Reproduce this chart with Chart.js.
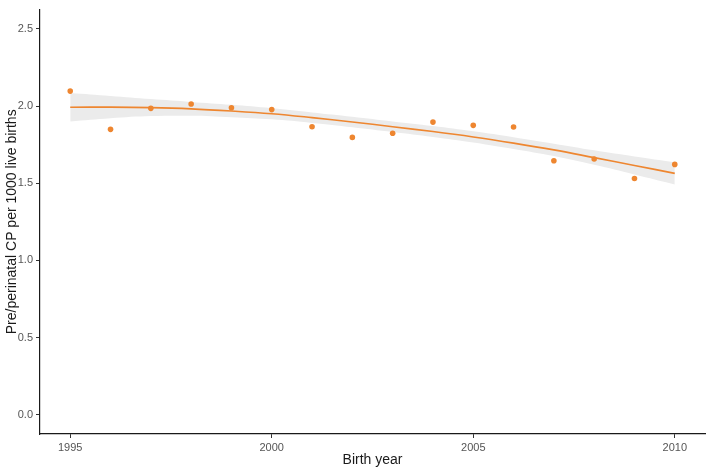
<!DOCTYPE html>
<html>
<head>
<meta charset="utf-8">
<script src="https://cdn.jsdelivr.net/npm/chart.js@4.4.1/dist/chart.umd.min.js"></script>
<style>
html,body{margin:0;padding:0;background:#fff;}
#wrap{width:709px;height:469px;position:relative;}
</style>
</head>
<body>
<div id="wrap"><canvas id="c" width="709" height="469"></canvas></div>
<script>
const years = [1995,1996,1997,1998,1999,2000,2001,2002,2003,2004,2005,2006,2007,2008,2009,2010];
const observed = [2.097,1.849,1.985,2.013,1.989,1.977,1.866,1.797,1.824,1.896,1.875,1.864,1.646,1.657,1.531,1.622];
const fitted = [1.992,1.993,1.990,1.982,1.968,1.950,1.925,1.897,1.866,1.835,1.800,1.760,1.716,1.666,1.615,1.564];
const upperCI = [2.084,2.065,2.045,2.027,2.008,1.986,1.959,1.931,1.900,1.870,1.836,1.798,1.756,1.713,1.673,1.636];
const lowerCI = [1.900,1.921,1.935,1.937,1.928,1.914,1.891,1.863,1.832,1.800,1.764,1.722,1.676,1.619,1.557,1.492];
const xTicks = [1995,2000,2005,2010];
const yTicks = [0,0.5,1.0,1.5,2.0,2.5];

const ORANGE = '#EE8630';
const toXY = (arr) => years.map((y,i)=>({x:y,y:arr[i]}));

new Chart(document.getElementById('c'), {
  type: 'scatter',
  data: {
    datasets: [
      {label:'observed', data: toXY(observed), backgroundColor: ORANGE, borderColor: ORANGE, pointRadius: 2.8, pointBorderWidth: 0, showLine:false},
      {label:'fit', data: toXY(fitted), showLine:true, borderColor: ORANGE, borderWidth: 1.6, pointRadius:0, tension:0.4, fill:false},
      {label:'upper', data: toXY(upperCI), showLine:true, borderWidth:0, borderColor:'rgba(0,0,0,0)', pointRadius:0, tension:0.4, fill:'+1', backgroundColor:'#EBEBEB'},
      {label:'lower', data: toXY(lowerCI), showLine:true, borderWidth:0, borderColor:'rgba(0,0,0,0)', pointRadius:0, tension:0.4, fill:false}
    ]
  },
  options: {
    responsive:false,
    animation:false,
    devicePixelRatio:1,
    layout:{padding:{top:2,right:1,left:0,bottom:0}},
    plugins:{legend:{display:false},tooltip:{enabled:false}},
    scales:{
      x:{
        type:'linear', min:1994.25, max:2010.75,
        afterBuildTicks:(s)=>{s.ticks = xTicks.map(v=>({value:v}));},
        afterFit:(s)=>{s.height = 35;},
        grid:{drawOnChartArea:false, drawTicks:true, tickLength:4, color:'#333333', tickWidth:1},
        border:{display:true, color:'#1a1a1a', width:1.2},
        ticks:{color:'#555555', font:{family:'Liberation Sans', size:11}, padding:3, maxRotation:0, autoSkip:false, callback:(v)=>String(v)},
        title:{display:true, text:'Birth year', color:'#1a1a1a', font:{family:'Liberation Sans', size:14}, padding:{top:0,bottom:0}}
      },
      y:{
        type:'linear', min:-0.125, max:2.625,
        afterBuildTicks:(s)=>{s.ticks = yTicks.map(v=>({value:v}));},
        afterFit:(s)=>{s.width = 40;},
        grid:{drawOnChartArea:false, drawTicks:true, tickLength:4, color:'#333333', tickWidth:1},
        border:{display:true, color:'#1a1a1a', width:1.2},
        ticks:{color:'#555555', font:{family:'Liberation Sans', size:11}, padding:3, autoSkip:false, callback:(v)=>Number(v).toFixed(1)},
        title:{display:true, text:'Pre/perinatal CP per 1000 live births', color:'#1a1a1a', font:{family:'Liberation Sans', size:14}, padding:{top:4,bottom:0}}
      }
    }
  }
});
</script>
</body>
</html>
